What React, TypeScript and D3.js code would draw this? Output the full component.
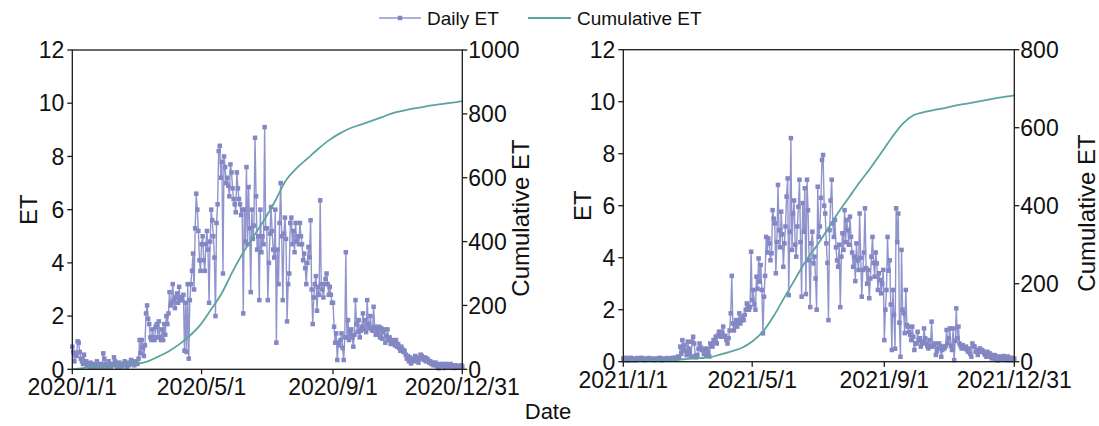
import React from "react";
import * as d3 from "d3";

// Daily ET, 2020 (one row per month)
const et2020 = [
  0.85, 0.65, 0.3, 0.6, 0.5, 1.05, 1.0, 0.65, 0.4, 0.3, 0.2, 0.55, 0.2, 0.3, 0.15, 0.2, 0.1, 0.25, 0.15, 0.1, 0.2, 0.1, 0.15, 0.3, 0.2, 0.1, 0.15, 0.2, 0.1, 0.6, 0.4,
  0.2, 0.1, 0.15, 0.3, 0.2, 0.1, 0.15, 0.2, 0.45, 0.3, 0.15, 0.1, 0.2, 0.25, 0.15, 0.1, 0.2, 0.15, 0.3, 0.2, 0.1, 0.25, 0.15, 0.2, 0.35, 0.3, 0.2, 0.15, 0.25,
  0.3, 0.2, 0.4, 1.1, 0.6, 1.1, 0.8, 0.5, 0.9, 2.1, 2.4, 1.9, 1.7, 1.2, 1.1, 1.5, 1.2, 1.1, 1.6, 1.7, 1.2, 1.8, 1.2, 1.1, 1.5, 1.1, 1.7, 1.3, 2.0, 1.7, 2.1,
  2.9, 2.4, 2.5, 3.2, 2.6, 2.3, 2.7, 2.85, 2.5, 3.1, 2.6, 2.7, 2.6, 2.8, 0.7, 2.5, 0.65, 3.2, 0.4, 2.6, 3.2, 3.7, 4.35, 3.0, 5.3, 6.6, 6.0, 5.2, 4.1, 3.7,
  4.7, 5.0, 4.1, 3.7, 4.7, 5.2, 4.5, 2.5, 4.8, 6.0, 5.6, 5.0, 4.2, 2.0, 5.5, 6.2, 8.2, 8.4, 7.2, 7.8, 3.6, 8.0, 7.6, 7.0, 7.2, 6.9, 6.5, 7.7, 7.4, 6.8, 6.4,
  6.2, 5.9, 7.4, 6.8, 6.4, 6.2, 5.8, 6.0, 2.1, 6.0, 4.8, 7.6, 4.7, 6.85, 5.3, 2.9, 6.0, 4.9, 5.4, 8.7, 6.5, 4.5, 5.0, 2.6, 6.0, 4.4, 5.0, 4.7, 9.1, 5.3,
  5.3, 2.6, 4.0, 5.1, 6.1, 5.2, 4.5, 4.2, 6.0, 1.0, 4.5, 3.2, 5.5, 7.0, 5.0, 2.6, 5.1, 5.7, 4.9, 1.8, 3.2, 3.6, 5.5, 5.7, 4.7, 5.2, 4.4, 5.5, 4.8, 5.0, 4.7,
  5.5, 5.0, 4.7, 4.1, 4.35, 3.8, 3.2, 4.0, 4.6, 4.2, 5.6, 3.0, 1.7, 2.7, 3.2, 3.5, 2.2, 3.1, 2.8, 6.35, 3.2, 3.0, 2.7, 3.2, 3.4, 3.6, 3.2, 2.8, 3.1, 2.8, 2.5,
  2.5, 1.6, 1.0, 1.35, 0.35, 1.0, 0.9, 1.1, 1.35, 0.8, 0.35, 1.2, 4.4, 1.2, 1.85, 1.1, 1.35, 1.5, 1.2, 0.85, 1.3, 2.6, 1.7, 1.4, 1.85, 1.2, 1.45, 1.6, 2.1, 1.5,
  1.85, 1.4, 2.6, 1.7, 1.55, 2.0, 1.5, 1.45, 2.35, 1.6, 1.3, 1.5, 1.35, 1.6, 1.2, 1.55, 1.15, 1.4, 1.5, 1.0, 1.25, 1.5, 1.1, 1.2, 0.95, 1.1, 1.0, 1.05, 0.9, 1.1, 0.85,
  0.95, 0.8, 0.7, 0.85, 0.75, 0.65, 0.7, 0.55, 0.4, 0.5, 0.3, 0.45, 0.22, 0.35, 0.4, 0.3, 0.5, 0.45, 0.35, 0.25, 0.4, 0.55, 0.5, 0.4, 0.35, 0.45, 0.3, 0.4, 0.35, 0.25,
  0.3, 0.2, 0.25, 0.15, 0.2, 0.25, 0.15, 0.1, 0.04, 0.2, 0.12, 0.15, 0.2, 0.05, 0.15, 0.2, 0.1, 0.15, 0.12, 0.2, 0.1, 0.15, 0.05, 0.12, 0.15, 0.1, 0.08, 0.12, 0.1, 0.15, 0.1,
];

// Daily ET, 2021 (one row per month)
const et2021 = [
  0.12, 0.08, 0.15, 0.1, 0.06, 0.12, 0.1, 0.15, 0.08, 0.1, 0.12, 0.06, 0.1, 0.14, 0.08, 0.1, 0.12, 0.15, 0.1, 0.08, 0.06, 0.12, 0.1, 0.08, 0.14, 0.1, 0.12, 0.08, 0.1, 0.06, 0.12,
  0.1, 0.08, 0.12, 0.15, 0.1, 0.06, 0.1, 0.12, 0.08, 0.1, 0.14, 0.1, 0.12, 0.08, 0.1, 0.15, 0.12, 0.1, 0.16, 0.12, 0.2, 0.15, 0.58, 0.3, 0.83, 0.45, 0.64, 0.41,
  0.25, 0.77, 0.5, 0.35, 0.2, 0.77, 0.96, 0.7, 0.22, 0.17, 0.26, 0.5, 0.7, 0.55, 0.45, 0.45, 0.3, 0.5, 0.26, 0.5, 0.35, 0.2, 0.7, 0.6, 0.58, 0.83, 0.75, 0.96, 0.7, 1.0, 1.15,
  1.15, 0.96, 1.1, 1.35, 0.96, 1.0, 0.83, 0.7, 0.9, 1.2, 1.86, 3.3, 1.47, 1.2, 1.4, 1.6, 1.35, 1.5, 1.86, 1.47, 1.6, 1.73, 1.6, 1.8, 2.0, 2.24, 2.1, 2.0, 2.1, 4.23,
  2.37, 2.76, 2.2, 2.0, 3.27, 2.8, 3.97, 3.08, 3.72, 2.76, 1.09, 2.5, 3.3, 4.8, 4.2, 4.74, 4.55, 3.9, 4.17, 5.83, 5.5, 5.32, 3.4, 4.6, 6.8, 5.06, 4.4, 5.77, 4.9, 3.65, 4.55,
  5.2, 6.35, 7.05, 2.56, 5.0, 8.6, 4.3, 5.7, 6.2, 4.5, 4.04, 5.2, 5.96, 7.0, 4.6, 2.5, 6.1, 5.0, 6.67, 2.6, 7.0, 5.83, 3.9, 2.1, 4.55, 5.0, 3.78, 4.04, 3.2, 2.0,
  6.73, 4.8, 5.2, 6.3, 7.76, 7.95, 6.0, 5.7, 4.55, 3.8, 1.6, 5.06, 6.2, 7.0, 5.32, 4.8, 5.45, 4.4, 3.9, 3.65, 4.5, 2.1, 4.04, 4.94, 4.3, 5.83, 4.6, 5.45, 5.06, 4.5, 5.58,
  4.8, 4.2, 3.65, 4.04, 3.1, 4.55, 3.9, 3.53, 5.7, 4.0, 2.5, 3.53, 4.2, 5.9, 3.6, 3.0, 3.53, 2.44, 3.2, 4.04, 4.8, 3.8, 3.27, 4.2, 3.78, 2.76, 3.4, 3.14, 2.63, 3.0, 3.53,
  0.83, 2.0, 2.76, 4.8, 3.5, 3.9, 2.2, 0.45, 2.76, 1.8, 0.5, 5.9, 4.6, 5.7, 1.5, 0.19, 4.3, 2.0, 1.86, 1.1, 2.76, 1.41, 1.35, 1.15, 1.03, 0.83, 1.35, 0.96, 0.45, 0.7,
  0.7, 1.15, 0.8, 0.9, 0.58, 0.7, 0.77, 1.28, 0.9, 0.7, 0.6, 0.51, 0.83, 0.6, 1.54, 0.58, 0.65, 0.7, 0.26, 0.4, 0.51, 0.7, 0.6, 0.19, 0.45, 0.58, 0.51, 0.6, 1.22, 0.7, 0.9,
  1.28, 0.6, 0.45, 1.28, 0.06, 0.8, 2.05, 0.9, 1.35, 0.7, 0.6, 0.51, 0.64, 0.55, 0.51, 0.58, 0.45, 0.38, 0.51, 0.3, 0.19, 0.7, 0.6, 0.58, 0.38, 0.45, 0.26, 0.4, 0.51, 0.38,
  0.45, 0.4, 0.32, 0.26, 0.19, 0.38, 0.25, 0.32, 0.19, 0.13, 0.26, 0.13, 0.25, 0.1, 0.15, 0.05, 0.2, 0.1, 0.15, 0.08, 0.22, 0.1, 0.15, 0.06, 0.2, 0.08, 0.13, 0.06, 0.15, 0.08, 0.12,
];

// Cumulative ET, read every ten days (day of year, value)
const cumDays2020 = [0, 10, 20, 30, 40, 50, 60, 70, 80, 90, 100, 110, 120, 130, 140, 150, 160, 170, 180, 190, 200, 210, 220, 230, 240, 250, 260, 270, 280, 290, 300, 310, 320, 330, 340, 350, 360, 365];
const cum2020 = [0, 4, 7, 10, 13, 15, 17, 24, 39, 56, 78, 105, 140, 188, 239, 306, 366, 418, 470, 528, 592, 630, 660, 690, 717, 738, 755, 766, 778, 790, 802, 810, 817, 823, 828, 833, 837, 840];
const cumDays2021 = [0, 10, 20, 30, 40, 50, 60, 70, 80, 90, 100, 110, 120, 130, 140, 150, 160, 170, 180, 190, 200, 210, 220, 230, 240, 250, 260, 270, 280, 290, 300, 310, 320, 330, 340, 350, 360, 364];
const cum2021 = [0, 1, 2, 3, 4, 5, 7, 9, 11, 18, 26, 35, 52, 77, 117, 165, 212, 259, 297, 339, 382, 421, 460, 496, 535, 575, 610, 632, 640, 646, 651, 657, 662, 667, 672, 677, 681, 683];

// Axis ticks
const dateTicks2020 = ["2020/1/1", "2020/5/1", "2020/9/1", "2020/12/31"];
const dateTicks2021 = ["2021/1/1", "2021/5/1", "2021/9/1", "2021/12/31"];
const etTicks = [0, 2, 4, 6, 8, 10, 12];
const cumTicks2020 = [0, 200, 400, 600, 800, 1000];
const cumTicks2021 = [0, 200, 400, 600, 800];

const FONT = "'Liberation Sans', Arial, Helvetica, sans-serif";
const DAILY_LINE = "#9195cd";
const DAILY_MARK = "#8387c3";
const CUM_LINE = "#5aa59f";
const AXIS = "#1a1a1a";

const parseDate = d3.timeParse("%Y/%m/%d");

interface PanelProps {
  daily: number[];
  cumDays: number[];
  cum: number[];
  dateTicks: string[];
  cumTicks: number[];
  left: number;
  right: number;
  top: number;
  bottom: number;
  etOffset: number;
  cumOffset: number;
  cumCenter: number;
}

function Panel({ daily, cumDays, cum, dateTicks, cumTicks, left, right, top, bottom, etOffset, cumOffset, cumCenter }: PanelProps) {
  const dates = dateTicks.map((t) => parseDate(t) as Date);
  const start = dates[0];
  const end = dates[dates.length - 1];
  const x = d3.scaleTime().domain([start, end]).range([left, right]);
  const y = d3.scaleLinear().domain([0, 12]).range([bottom, top]);
  const yR = d3.scaleLinear().domain([0, cumTicks[cumTicks.length - 1]]).range([bottom, top]);
  const dayX = (i: number) => x(d3.timeDay.offset(start, i));

  const dailyPath = d3
    .line<number>()
    .x((_, i) => dayX(i))
    .y((d) => y(d))(daily) as string;

  const cumPath = d3
    .line<number>()
    .x((_, i) => dayX(cumDays[i]))
    .y((d) => yR(d))
    .curve(d3.curveMonotoneX)(cum) as string;

  const tickLen = 5;
  const fs = 23;
  const mid = (top + bottom) / 2;

  return (
    <g>
      <path d={dailyPath} fill="none" stroke={DAILY_LINE} strokeWidth={1.4} />
      {daily.map((d, i) => (
        <rect key={i} x={dayX(i) - 2.25} y={y(d) - 2.25} width={4.5} height={4.5} fill={DAILY_MARK} />
      ))}
      <path d={cumPath} fill="none" stroke={CUM_LINE} strokeWidth={1.8} />

      {/* frame */}
      <rect x={left} y={top} width={right - left} height={bottom - top} fill="none" stroke={AXIS} strokeWidth={1.3} />

      {/* left axis: daily ET */}
      {etTicks.map((t) => (
        <g key={"l" + t}>
          <line x1={left - tickLen} x2={left} y1={y(t)} y2={y(t)} stroke={AXIS} strokeWidth={1.3} />
          <text x={left - 8} y={y(t)} dy="0.36em" textAnchor="end" fontSize={fs} fontFamily={FONT} fill="#111">
            {t}
          </text>
        </g>
      ))}

      {/* right axis: cumulative ET */}
      {cumTicks.map((t) => (
        <g key={"r" + t}>
          <line x1={right} x2={right + tickLen} y1={yR(t)} y2={yR(t)} stroke={AXIS} strokeWidth={1.3} />
          <text x={right + 6} y={yR(t)} dy="0.36em" textAnchor="start" fontSize={fs} fontFamily={FONT} fill="#111">
            {t}
          </text>
        </g>
      ))}

      {/* bottom axis: dates */}
      {dates.map((d, i) => (
        <g key={"x" + i}>
          <line x1={x(d)} x2={x(d)} y1={bottom} y2={bottom + tickLen} stroke={AXIS} strokeWidth={1.3} />
          <text x={x(d)} y={bottom + 26} textAnchor="middle" fontSize={fs} fontFamily={FONT} fill="#111">
            {dateTicks[i]}
          </text>
        </g>
      ))}

      <text
        transform={`translate(${left - etOffset},${mid}) rotate(-90)`}
        textAnchor="middle"
        fontSize={24}
        fontFamily={FONT}
        fill="#111"
      >
        ET
      </text>
      <text
        transform={`translate(${right + cumOffset},${cumCenter}) rotate(-90)`}
        textAnchor="middle"
        fontSize={24}
        fontFamily={FONT}
        fill="#111"
      >
        Cumulative ET
      </text>
    </g>
  );
}

export default function App() {
  return (
    <svg
      width={1099}
      height={426}
      viewBox="0 0 1099 426"
      style={{ position: "absolute", left: 0, top: 0, background: "#fff" }}
    >
      <rect width={1099} height={426} fill="#fff" />

      {/* legend */}
      <g fontFamily={FONT} fontSize={19} fill="#111">
        <line x1={379} x2={421} y1={18} y2={18} stroke={DAILY_LINE} strokeWidth={1.4} />
        <rect x={397.75} y={15.75} width={4.5} height={4.5} fill={DAILY_MARK} />
        <text x={427} y={25}>Daily ET</text>
        <line x1={528} x2={571} y1={18} y2={18} stroke={CUM_LINE} strokeWidth={1.8} />
        <text x={577} y={25}>Cumulative ET</text>
      </g>

      <Panel
        daily={et2020}
        cumDays={cumDays2020}
        cum={cum2020}
        dateTicks={dateTicks2020}
        cumTicks={cumTicks2020}
        left={72.3}
        right={462.3}
        top={50}
        bottom={369.3}
        etOffset={35}
        cumOffset={67}
        cumCenter={218}
      />
      <Panel
        daily={et2021}
        cumDays={cumDays2021}
        cum={cum2021}
        dateTicks={dateTicks2021}
        cumTicks={cumTicks2021}
        left={623.3}
        right={1014.3}
        top={49.7}
        bottom={361.7}
        etOffset={32}
        cumOffset={81}
        cumCenter={213}
      />

      <text x={548} y={419} textAnchor="middle" fontSize={22} fontFamily={FONT} fill="#111">
        Date
      </text>
    </svg>
  );
}
